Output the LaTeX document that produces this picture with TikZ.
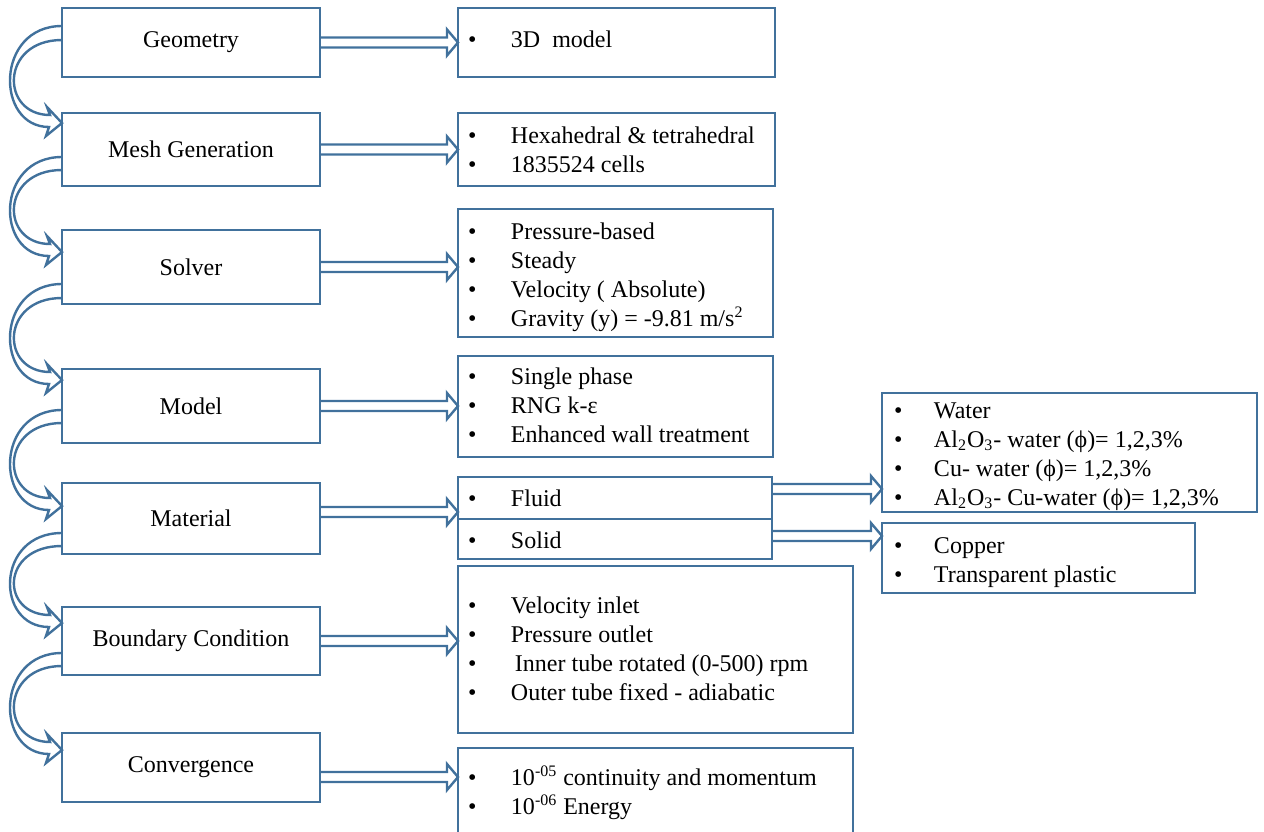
\documentclass[tikz,border=0pt]{standalone}
\usepackage{fontspec}
\setmainfont{Liberation Serif}
\usetikzlibrary{calc,fit}
\definecolor{bl}{RGB}{65,113,156}
\tikzset{
  box/.style={draw=bl, line width=1.3pt, inner sep=0pt, outer sep=0pt, rectangle},
  conn/.style={draw=bl, line width=1.2pt, line join=miter},
  items/.style={anchor=base west, inner sep=0pt, outer sep=0pt},
  lbl/.style={inner sep=0pt},
}
\newcommand\bl[1]{\begin{tabular}[t]{@{}p{21.5pt}@{}l@{}}#1\end{tabular}}
\newcommand\blr[1]{\begin{tabular}[t]{@{}p{20pt}@{}l@{}}#1\end{tabular}}
% straight double arrow: from, to, dy (px, down)
\newcommand\dbl[3]{\draw[conn] let \p1=($(#1.east)+(0,#3)$), \p2=(#2.west) in
  (\x1,\y1+2.5pt) -- (\x2-5.5pt,\y1+2.5pt) -- (\x2-5.5pt,\y1+6.5pt) -- (\x2,\y1)
  -- (\x2-5.5pt,\y1-6.5pt) -- (\x2-5.5pt,\y1-2.5pt) -- (\x1,\y1-2.5pt);}
% curved double arrow: from, to, a, b (px above from bottom), t (px below to top)
\newcommand\curv[5]{\draw[conn] let \p1=(#1.south west), \p2=(#2.north west) in
  (\x1,\y1+#3*0.5pt) .. controls (\x1-33.5pt,\y1+#3*0.5pt) and (\x1-33.5pt,\y2-#5*0.5pt-2pt) .. (\x1-6.5pt,\y2-#5*0.5pt-2pt)
  -- (\x1-8pt,\y2-#5*0.5pt-6.5pt) -- (\x2,\y2-#5*0.5pt) -- (\x1-7.5pt,\y2-#5*0.5pt+8pt)
  -- (\x1-6pt,\y2-#5*0.5pt+4pt) .. controls (\x1-31pt,\y2-#5*0.5pt+4pt) and (\x1-31pt,\y1+#4*0.5pt) .. (\x1,\y1+#4*0.5pt);}
\begin{document}
\begin{tikzpicture}[x=0.5pt,y=-0.5pt, every node/.style={font=\fontsize{12}{14.5}\selectfont}]
\useasboundingbox (0,0) rectangle (1264,831);
\clip (0,0) rectangle (1264,831);
% left column
\node[box, fit={(62,8)(320,77)}] (geo) {};
\node[box, fit={(62,113)(320,186)}] (mesh) {};
\node[box, fit={(62,230)(320,304)}] (solver) {};
\node[box, fit={(62,369)(320,443)}] (model) {};
\node[box, fit={(62,483)(320,554)}] (material) {};
\node[box, fit={(62,607)(320,675)}] (boundary) {};
\node[box, fit={(62,733)(320,802)}] (conv) {};
\node[lbl] (geot) at (geo.center) {Geometry};
\node[lbl] (mesht) at (mesh.center) {Mesh Generation};
\node[lbl] (solvert) at (solver.center) {Solver};
\node[lbl] (modelt) at (model.center) {Model};
\node[lbl] (materialt) at (material.center) {Material};
\node[lbl] (boundaryt) at (boundary.center) {Boundary Condition};
\node[lbl] (convt) at (conv.center) {Convergence};
% middle column
\node[box, fit={(458,8)(775,77)}] (r3d) {};
\node[box, fit={(458,113)(775,186)}] (rmesh) {};
\node[box, fit={(458,209)(773,337)}] (rsolver) {};
\node[box, fit={(458,356)(773,457)}] (rmodel) {};
\node[box, fit={(458,477)(772,519)}] (rfluid) {};
\node[box, fit={(458,519)(772,559)}] (rsolid) {};
\node[box, fit={(458,566)(853,733)}] (rbound) {};
\node[box, fit={(458,748)(853,850)}] (rconv) {};
% right column
\node[box, fit={(882,393)(1257,512)}] (rwater) {};
\node[box, fit={(882,523)(1195,593)}] (rcopper) {};
% texts
\node[items] (t3d) at (468,47) {\bl{•&3D\ \ model}};
\node[items] (tmesh) at (468,143) {\bl{•&Hexahedral \& tetrahedral\\ •&1835524 cells}};
\node[items] (tsolver) at (468,239) {\bl{•&Pressure-based\\ •&Steady\\ •&Velocity ( Absolute)\\ •&Gravity (y) = -9.81 m/s\textsuperscript{2}}};
\node[items] (tmodel) at (468,384) {\bl{•&Single phase\\ •&RNG k-ε\\ •&Enhanced wall treatment}};
\node[items] (tfluid) at (468,506) {\bl{•&Fluid}};
\node[items] (tsolid) at (468,548) {\bl{•&Solid}};
\node[items] (tbound) at (468,613) {\bl{•&Velocity inlet\\ •&Pressure outlet\\ •&\hspace{2pt}Inner tube rotated (0-500) rpm\\ •&Outer tube fixed - adiabatic}};
\node[items] (tconv) at (468,785) {\bl{•&10\textsuperscript{-05} continuity and momentum\\ •&10\textsuperscript{-06} Energy}};
\node[items] (twater) at (894,418) {\blr{•&Water\\ •&Al\textsubscript{2}O\textsubscript{3}- water (ϕ)= 1,2,3\%\\ •&Cu- water (ϕ)= 1,2,3\%\\ •&Al\textsubscript{2}O\textsubscript{3}- Cu-water (ϕ)= 1,2,3\%}};
\node[items] (tcopper) at (894,553) {\blr{•&Copper\\ •&Transparent plastic}};
% straight arrows
\dbl{geo}{r3d}{0}
\dbl{mesh}{rmesh}{0}
\dbl{solver}{rsolver}{0}
\dbl{model}{rmodel}{0}
\dbl{material}{rfluid}{-6.5}
\dbl{boundary}{rbound}{0}
\dbl{conv}{rconv}{9.5}
\dbl{rfluid}{rwater}{-9}
\dbl{rsolid}{rcopper}{-3}
% curved arrows
\curv{geo}{mesh}{51}{37}{10}
\curv{mesh}{solver}{29}{16}{22}
\curv{solver}{model}{20}{6}{11}
\curv{model}{material}{33}{20}{23}
\curv{material}{boundary}{21}{8}{16}
\curv{boundary}{conv}{22}{9}{17}
\end{tikzpicture}
\end{document}
